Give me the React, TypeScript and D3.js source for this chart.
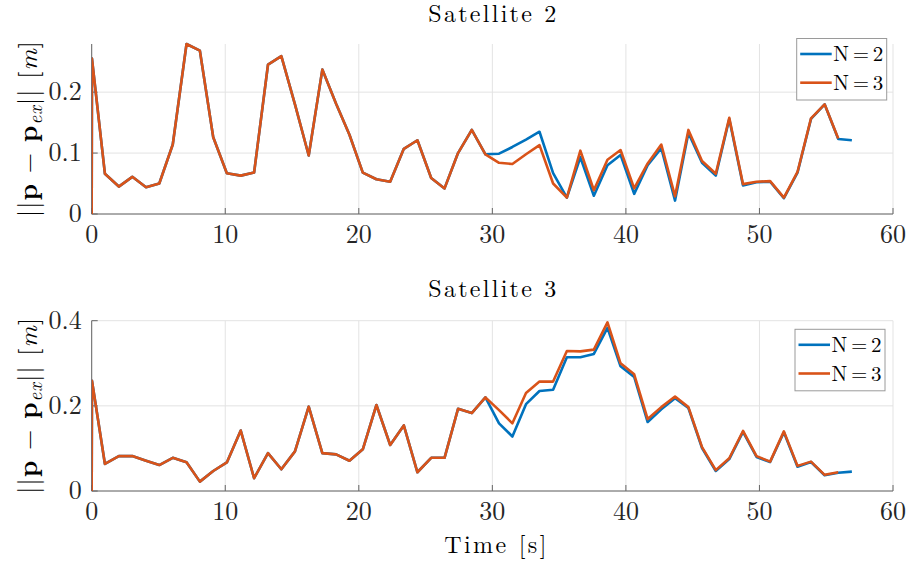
import React from "react";
import * as d3 from "d3";

// Sample times [s]
const times = [
  0, 0.02, 0.99, 2.03, 3.04, 4.07, 5.06, 6.07, 7.1, 8.1, 9.1, 10.12, 11.16, 12.16,
  13.2, 14.2, 15.22, 16.25, 17.27, 18.3, 19.3, 20.3, 21.32, 22.35, 23.37, 24.39,
  25.42, 26.42, 27.43, 28.46, 29.48, 30.5, 31.5, 32.52, 33.53, 34.55, 35.58, 36.59,
  37.6, 38.62, 39.6, 40.62, 41.63, 42.65, 43.68, 44.68, 45.7, 46.73, 47.74, 48.77,
  49.78, 50.8, 51.83, 52.85, 53.86, 54.88, 55.9, 56.92,
];

// Satellite 2 position error, horizon N=2 and N=3
const sat2N2 = [
  0, 0.255, 0.066, 0.045, 0.061, 0.044, 0.05, 0.114, 0.279, 0.268, 0.126, 0.067,
  0.063, 0.068, 0.245, 0.259, 0.18, 0.096, 0.237, 0.181, 0.13, 0.068, 0.057, 0.053,
  0.107, 0.121, 0.059, 0.042, 0.1, 0.138, 0.098, 0.099, 0.11, 0.122, 0.135, 0.067,
  0.027, 0.093, 0.03, 0.08, 0.097, 0.033, 0.08, 0.108, 0.022, 0.133, 0.084, 0.063,
  0.156, 0.047, 0.052, 0.053, 0.026, 0.068, 0.156, 0.18, 0.123, 0.121,
];
const sat2N3 = [
  0, 0.255, 0.066, 0.045, 0.061, 0.044, 0.05, 0.114, 0.279, 0.268, 0.126, 0.067,
  0.063, 0.068, 0.245, 0.259, 0.18, 0.096, 0.237, 0.181, 0.13, 0.068, 0.057, 0.053,
  0.107, 0.121, 0.059, 0.042, 0.1, 0.138, 0.098, 0.084, 0.082, 0.098, 0.113, 0.05,
  0.027, 0.104, 0.039, 0.089, 0.105, 0.042, 0.083, 0.114, 0.029, 0.138, 0.087, 0.066,
  0.158, 0.049, 0.053, 0.054, 0.027, 0.069, 0.157, 0.18, 0.124,
];

// Satellite 3 position error, horizon N=2 and N=3
const sat3N2 = [
  0, 0.259, 0.0635, 0.082, 0.082, 0.071, 0.061, 0.078, 0.0675, 0.022, 0.047, 0.067,
  0.142, 0.03, 0.089, 0.051, 0.093, 0.198, 0.089, 0.086, 0.071, 0.098, 0.202, 0.108,
  0.154, 0.044, 0.078, 0.078, 0.193, 0.183, 0.22, 0.159, 0.128, 0.204, 0.235, 0.238,
  0.314, 0.314, 0.322, 0.383, 0.293, 0.268, 0.162, 0.192, 0.218, 0.195, 0.101, 0.047,
  0.075, 0.139, 0.08, 0.068, 0.138, 0.057, 0.068, 0.037, 0.043, 0.0455,
];
const sat3N3 = [
  0, 0.259, 0.0635, 0.082, 0.082, 0.071, 0.061, 0.078, 0.0675, 0.022, 0.047, 0.067,
  0.142, 0.03, 0.089, 0.051, 0.093, 0.198, 0.089, 0.086, 0.071, 0.098, 0.202, 0.108,
  0.154, 0.044, 0.078, 0.078, 0.193, 0.183, 0.22, 0.19, 0.159, 0.23, 0.257, 0.257,
  0.329, 0.328, 0.332, 0.396, 0.3, 0.274, 0.169, 0.197, 0.222, 0.197, 0.103, 0.049,
  0.077, 0.141, 0.082, 0.069, 0.14, 0.059, 0.069, 0.038, 0.044,
];

const xTicks = [0, 10, 20, 30, 40, 50, 60];
const xTickLabels = ["0", "10", "20", "30", "40", "50", "60"];
const sat2YTicks = [0, 0.1, 0.2];
const sat2YTickLabels = ["0", "0.1", "0.2"];
const sat3YTicks = [0, 0.2, 0.4];
const sat3YTickLabels = ["0", "0.2", "0.4"];
const seriesNames = ["N=2", "N=3"];
const seriesColors = ["#0072BD", "#D95319"];

const W = 909;
const H = 567;
const X0 = 91.7;
const X1 = 893;
const FONT = '"Latin Modern Roman", "Liberation Serif", "Times New Roman"';
const AXIS = "#666666";
const GRID = "#e3e3e3";
const TEXT = "#262626";

const x = d3.scaleLinear().domain([0, 60]).range([X0, X1]);

const serif = (size: number): React.CSSProperties => ({ fontFamily: FONT, fontSize: size });

type PanelProps = {
  title: string;
  titleY: number;
  top: number;
  bottom: number;
  yMax: number;
  yTicks: number[];
  yTickLabels: string[];
  series: number[][];
  legendTop: number;
  legendRight: number;
  clipId: string;
};

function Panel(p: PanelProps) {
  const y = d3.scaleLinear().domain([0, p.yMax]).range([p.bottom, p.top]);
  const line = d3
    .line<number>()
    .x((_, i) => x(times[i]))
    .y((v) => y(v));
  const tick = 6;
  const midY = (p.top + p.bottom) / 2;
  const lw = 90;
  const lh = 61.5;
  const lx = p.legendRight - lw;
  const ly = p.legendTop;
  return (
    <g>
      <defs>
        <clipPath id={p.clipId}>
          <rect x={X0} y={p.top - 2} width={X1 - X0 + 2} height={p.bottom - p.top + 4} />
        </clipPath>
      </defs>
      {/* grid */}
      {xTicks.map((t) => (
        <line key={"gx" + t} x1={x(t)} x2={x(t)} y1={p.top} y2={p.bottom} stroke={GRID} strokeWidth={1} />
      ))}
      {p.yTicks.map((t) => (
        <line key={"gy" + t} x1={X0} x2={X1} y1={y(t)} y2={y(t)} stroke={GRID} strokeWidth={1} />
      ))}
      {/* axes */}
      <line x1={X0} x2={X1} y1={p.bottom} y2={p.bottom} stroke={AXIS} strokeWidth={1} />
      <line x1={X0} x2={X0} y1={p.top} y2={p.bottom} stroke={AXIS} strokeWidth={1} />
      {xTicks.map((t) => (
        <line key={"tx" + t} x1={x(t)} x2={x(t)} y1={p.bottom} y2={p.bottom - tick} stroke={AXIS} strokeWidth={1} />
      ))}
      {p.yTicks.map((t) => (
        <line key={"ty" + t} x1={X0} x2={X0 + tick} y1={y(t)} y2={y(t)} stroke={AXIS} strokeWidth={1} />
      ))}
      {/* tick labels */}
      {xTicks.map((t, i) => (
        <text key={"lx" + t} x={x(t)} y={p.bottom + 29} textAnchor="middle" style={serif(26)} fill={TEXT}>
          {xTickLabels[i]}
        </text>
      ))}
      {p.yTicks.map((t, i) => (
        <text key={"ly" + t} x={81.7} y={y(t) + 8.3} textAnchor="end" style={serif(26)} fill={TEXT}>
          {p.yTickLabels[i]}
        </text>
      ))}
      {/* data */}
      <g clipPath={`url(#${p.clipId})`}>
        {p.series.map((s, k) => (
          <path key={"s" + k} d={line(s) || ""} fill="none" stroke={seriesColors[k]} strokeWidth={2.6} strokeLinejoin="round" />
        ))}
      </g>
      {/* title */}
      <text x={(X0 + X1) / 2} y={p.titleY} textAnchor="middle" style={serif(24)} fill="#000" textLength={128} lengthAdjust="spacing">
        {p.title}
      </text>
      {/* y label */}
      <text
        transform={`translate(37,${midY}) rotate(-90)`}
        textAnchor="middle"
        style={serif(26)}
        fill="#000"
        textLength={176}
        lengthAdjust="spacing"
      >
        <tspan>||</tspan>
        <tspan fontWeight="bold">p</tspan>
        <tspan> − </tspan>
        <tspan fontWeight="bold">p</tspan>
        <tspan fontStyle="italic" style={{ fontSize: 19 }} dy={5}>ex</tspan>
        <tspan dy={-5}>||</tspan>
        <tspan> [</tspan>
        <tspan fontStyle="italic">m</tspan>
        <tspan>]</tspan>
      </text>
      {/* legend */}
      <rect x={lx} y={ly} width={lw} height={lh} fill="#fff" stroke="#9a9a9a" strokeWidth={1} />
      {seriesNames.map((n, k) => {
        const cy = ly + 15.5 + k * 28.7;
        return (
          <g key={"lg" + k}>
            <line x1={lx + 3.5} x2={lx + 35} y1={cy} y2={cy} stroke={seriesColors[k]} strokeWidth={2.6} />
            <text x={lx + 36.5} y={cy + 7.2} style={serif(21)} fill="#000" textLength={50} lengthAdjust="spacing">
              {n}
            </text>
          </g>
        );
      })}
    </g>
  );
}

export default function App() {
  return (
    <svg
      width={W}
      height={H}
      viewBox={`0 0 ${W} ${H}`}
      style={{ position: "absolute", left: 0, top: 0, background: "#fff" }}
    >
      <rect width={W} height={H} fill="#fff" />
      <Panel
        title="Satellite 2"
        titleY={22}
        top={44}
        bottom={214}
        yMax={0.279}
        yTicks={sat2YTicks}
        yTickLabels={sat2YTickLabels}
        series={[sat2N2, sat2N3]}
        legendTop={38.5}
        legendRight={886.7}
        clipId="clip-sat2"
      />
      <Panel
        title="Satellite 3"
        titleY={296.5}
        top={320.7}
        bottom={491}
        yMax={0.4}
        yTicks={sat3YTicks}
        yTickLabels={sat3YTickLabels}
        series={[sat3N2, sat3N3]}
        legendTop={329.3}
        legendRight={885}
        clipId="clip-sat3"
      />
      <text x={(X0 + X1) / 2 + 3} y={552.5} textAnchor="middle" style={serif(24)} fill="#000" textLength={102} lengthAdjust="spacing">
        Time [s]
      </text>
    </svg>
  );
}
